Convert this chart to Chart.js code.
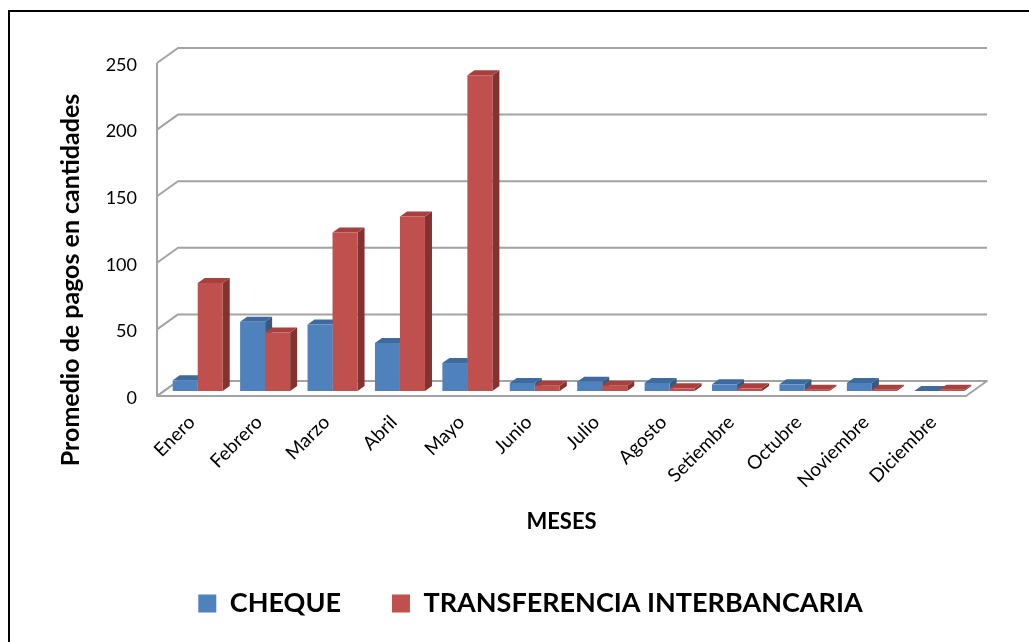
<!DOCTYPE html>
<html lang="es">
<head>
<meta charset="utf-8">
<title>Promedio de pagos</title>
<script src="https://cdn.jsdelivr.net/npm/chart.js@4.4.1/dist/chart.umd.min.js"></script>
<style>
  html, body { margin: 0; padding: 0; background: #fff; overflow: hidden; }
  #frame {
    position: absolute; left: 8px; top: 10px; width: 1100px; height: 700px;
    border-top: 2px solid #000; border-left: 2px solid #000;
  }
  #chart { position: absolute; left: 0; top: 0; }
</style>
</head>
<body>
<div id="frame"></div>
<canvas id="chart" width="1029" height="642"></canvas>
<script>
// Months on the category axis
const months = ['Enero', 'Febrero', 'Marzo', 'Abril', 'Mayo', 'Junio', 'Julio',
                'Agosto', 'Setiembre', 'Octubre', 'Noviembre', 'Diciembre'];
// Average number of payments per month, by payment type
const cheque = [8, 52, 50, 36, 21, 6, 7, 6, 5, 5, 6, 0];
const transferencia = [81, 44, 119, 131, 237, 4, 4, 2, 2, 1, 1, 1];
// Value axis ticks
const yTickValues = [0, 50, 100, 150, 200, 250];

const FONT = "Lato, 'Open Sans', sans-serif";
const GRID = '#a3a3a3';
// Floor depth: offset from the front edge to the back wall
const DEPTH_X = 21, DEPTH_Y = -15;
// Front / top / side face colours for the two series
const FRONT = ['#4F81BD', '#C0504D'];
const TOP = ['#3F6A9D', '#A8413E'];
const SIDE = ['#37597F', '#843230'];

// Draws the walls, the floor and the depth faces of the bars.
// Bars stand in the middle third of the floor depth.
const box3d = {
  id: 'box3d',
  afterLayout(chart) {
    // widen the y title band so the rotated title sits beside axis and month labels
    const y = chart.scales.y;
    y.bottom = chart.chartArea.bottom + 101;
  },
  beforeDatasetsDraw(chart) {
    const { ctx, chartArea: a } = chart;
    const y = chart.scales.y;
    ctx.save();
    ctx.strokeStyle = GRID;
    ctx.lineWidth = 2;
    ctx.lineJoin = 'round';
    // back wall grid lines, joined to the side wall
    yTickValues.forEach(v => {
      const py = y.getPixelForValue(v);
      ctx.beginPath();
      ctx.moveTo(a.left, py);
      ctx.lineTo(a.left + DEPTH_X, py + DEPTH_Y);
      ctx.lineTo(a.right + DEPTH_X, py + DEPTH_Y);
      ctx.stroke();
    });
    // front edge of the side wall
    ctx.beginPath();
    ctx.moveTo(a.left, y.getPixelForValue(yTickValues[yTickValues.length - 1]));
    ctx.lineTo(a.left, a.bottom);
    ctx.stroke();
    // floor
    ctx.beginPath();
    ctx.moveTo(a.left, a.bottom);
    ctx.lineTo(a.right, a.bottom);
    ctx.lineTo(a.right + DEPTH_X, a.bottom + DEPTH_Y);
    ctx.lineTo(a.left + DEPTH_X, a.bottom + DEPTH_Y);
    ctx.closePath();
    ctx.stroke();
    ctx.restore();

    // move to the bar plane; the front faces drawn by Chart.js use it too
    const dx = DEPTH_X / 3, dy = DEPTH_Y / 3;
    ctx.save();
    ctx.translate(dx, dy);
    const metas = [chart.getDatasetMeta(0), chart.getDatasetMeta(1)];
    for (let i = 0; i < months.length; i++) {
      metas.forEach((meta, k) => {
        const bar = meta.data[i];
        if (!bar) return;
        const { x, y: top, base, width } = bar.getProps(['x', 'y', 'base', 'width'], true);
        const l = x - width / 2, r = x + width / 2;
        ctx.fillStyle = SIDE[k];
        ctx.beginPath();
        ctx.moveTo(r, top);
        ctx.lineTo(r + dx, top + dy);
        ctx.lineTo(r + dx, base + dy);
        ctx.lineTo(r, base);
        ctx.closePath();
        ctx.fill();
        ctx.fillStyle = TOP[k];
        ctx.beginPath();
        ctx.moveTo(l, top);
        ctx.lineTo(l + dx, top + dy);
        ctx.lineTo(r + dx, top + dy);
        ctx.lineTo(r, top);
        ctx.closePath();
        ctx.fill();
      });
    }
  },
  afterDatasetsDraw(chart) {
    chart.ctx.restore();
  }
};

Chart.defaults.color = '#000';
Chart.defaults.font.family = FONT;

new Chart(document.getElementById('chart'), {
  type: 'bar',
  data: {
    labels: months,
    datasets: [
      { label: 'CHEQUE', data: cheque, backgroundColor: FRONT[0], borderWidth: 0, clip: false },
      { label: 'TRANSFERENCIA INTERBANCARIA', data: transferencia, backgroundColor: FRONT[1], borderWidth: 0, clip: false }
    ]
  },
  options: {
    responsive: false,
    animation: false,
    devicePixelRatio: 1,
    barPercentage: 1,
    categoryPercentage: 0.742,
    layout: { padding: { left: 95, right: 63, top: 63, bottom: 15 } },
    scales: {
      x: {
        grid: { display: false, drawTicks: false },
        border: { display: false },
        ticks: {
          autoSkip: false,
          minRotation: 45, maxRotation: 45,
          padding: 15, labelOffset: 1,
          font: { size: 19 }
        },
        title: {
          display: true, text: 'MESES',
          font: { size: 22, weight: 'bold' },
          padding: { top: 0, bottom: 4 }
        },
        afterFit(scale) { scale.height = 143; }
      },
      y: {
        min: 0, max: 250,
        grid: { display: false, drawTicks: false },
        border: { display: false },
        afterBuildTicks(scale) { scale.ticks = yTickValues.map(v => ({ value: v })); },
        ticks: { padding: 20, labelOffset: 2, font: { size: 18 } },
        title: {
          display: true, text: 'Promedio de pagos en cantidades',
          font: { size: 25, weight: 'bold' },
          padding: { top: -39, bottom: 0 }
        },
        afterFit(scale) { scale.width = 62; }
      }
    },
    plugins: {
      legend: {
        position: 'bottom',
        labels: {
          boxWidth: 18, boxHeight: 18, padding: 51,
          font: { size: 27, weight: 'bold' }
        }
      },
      tooltip: { enabled: false }
    }
  },
  plugins: [box3d]
});
</script>
</body>
</html>
